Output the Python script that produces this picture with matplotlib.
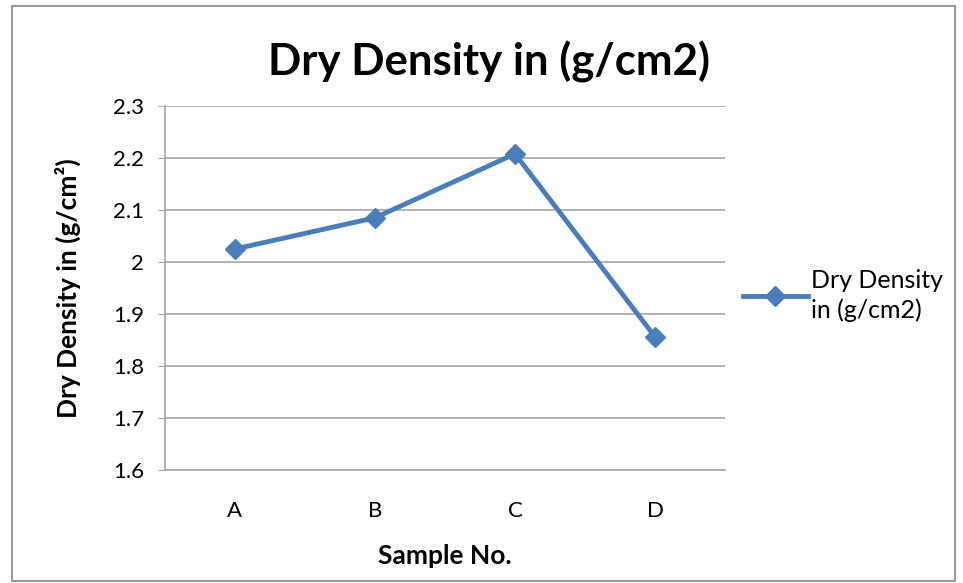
import matplotlib
matplotlib.use("Agg")
import matplotlib.pyplot as plt
from matplotlib.patches import Rectangle

# datos
muestras = ["A", "B", "C", "D"]
densidad = [2.025, 2.085, 2.208, 1.856]
yticks = [1.6, 1.7, 1.8, 1.9, 2.0, 2.1, 2.2, 2.3]
ytick_labels = ["1.6", "1.7", "1.8", "1.9", "2", "2.1", "2.2", "2.3"]

plt.rcParams["font.family"] = ["Lato", "DejaVu Sans"]

azul = "#4A7EBB"
gris = "#A6A6A6"

fig = plt.figure(figsize=(9.63, 5.83), dpi=100)
ax = fig.add_axes([0.1713, 0.1938, 0.5816, 0.6244])

x = list(range(len(muestras)))
ax.plot(x, densidad, color=azul, lw=3.5, marker="D", ms=10.5,
        label="Dry Density\nin (g/cm2)")

ax.set_xlim(-0.5, len(muestras) - 0.5)
ax.set_ylim(1.6, 2.3)
ax.set_xticks(x)
ax.set_xticklabels(muestras, fontsize=16)
ax.set_yticks(yticks)
ax.set_yticklabels(ytick_labels, fontsize=16)
ax.tick_params(axis="x", length=0, pad=22)
ax.tick_params(axis="y", length=5, color=gris, pad=10)

ax.grid(axis="y", color=gris, lw=1.2)
ax.set_axisbelow(True)
for lado in ["top", "right"]:
    ax.spines[lado].set_visible(False)
for lado in ["left", "bottom"]:
    ax.spines[lado].set_color(gris)
    ax.spines[lado].set_linewidth(1.2)

ax.set_xlabel("Sample No.", fontsize=19, fontweight="bold", labelpad=17)
ax.set_ylabel("Dry Density in (g/cm²)", fontsize=19, fontweight="bold", labelpad=23)
fig.text(0.508, 0.893, "Dry Density in (g/cm2)", fontsize=31.5, fontweight="bold",
         ha="center", va="center")

leg = ax.legend(loc="center left", bbox_to_anchor=(1.0, 0.48), frameon=False,
                fontsize=18, handlelength=2.6, handletextpad=0.15, borderaxespad=0.3)
for t in leg.get_texts():
    t.set_linespacing(1.35)

# marco exterior
fig.patches.append(Rectangle((0.012, 0.003), 0.98, 0.986, transform=fig.transFigure,
                             fill=False, edgecolor="#9A9A9A", lw=1.5))

fig.savefig("out.png", dpi=100)
